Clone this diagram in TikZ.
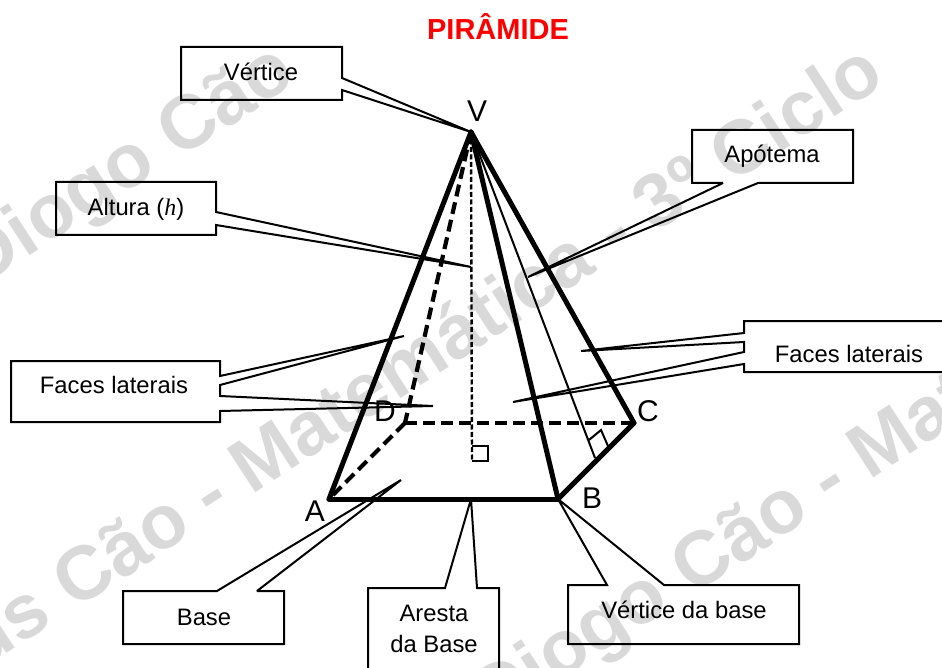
\documentclass[tikz,border=0pt]{standalone}
\usepackage{fontspec}
\setmainfont{Liberation Sans}
\newfontfamily\serifh{Liberation Serif}
\definecolor{wm}{HTML}{D9D9D9}
\tikzset{
  x=1pt,y=-1pt,
  wmark/.style={font=\fontsize{76}{76}\selectfont\bfseries,text=wm,rotate=33,inner sep=0pt},
  lab/.style={font=\fontsize{23.8}{26}\selectfont,anchor=base,inner sep=0pt},
  vert/.style={font=\fontsize{30}{32}\selectfont,anchor=base,inner sep=0pt},
  ttl/.style={font=\fontsize{29}{30}\selectfont\bfseries,text=red,anchor=base,inner sep=0pt},
  callout/.style={draw=black,line width=2pt,line join=miter,miter limit=2},
  edgebold/.style={line width=5pt,line cap=round},
  edgedash/.style={line width=4.2pt,dash pattern=on 12pt off 6pt},
  heightdash/.style={line width=2.4pt,dash pattern=on 5pt off 2.5pt},
  thinline/.style={line width=2pt}
}
\begin{document}
\begin{tikzpicture}
\useasboundingbox (0,0) rectangle (942,668);
\begin{scope}
\clip (0,0) rectangle (942,668);
\node[wmark,anchor=base east] (w1a) at (160,171) {Diogo};
\node[wmark,anchor=base west] (w1b) at (178,160) {Cão};
\node[wmark,anchor=base east] (w2a) at (55,622) {us};
\node[wmark,anchor=base west] (w2b) at (74,611) {Cão - Matemática - 3º Ciclo};
\node[wmark,anchor=base east] (w3a) at (673,607) {Diogo};
\node[wmark,anchor=base west] (w3b) at (692,596) {Cão - Mat};
\end{scope}

\coordinate (V) at (471,132);
\coordinate (A) at (329,499);
\coordinate (B) at (558,499);
\coordinate (C) at (634,423);
\coordinate (D) at (405,423);
\coordinate (H) at (472,460);
\coordinate (M) at (595,458);
\coordinate (S1) at (472,446);
\coordinate (S2) at (488,446);
\coordinate (S3) at (488,461);
\coordinate (S4) at (472,461);
\coordinate (R1) at (589,440);
\coordinate (R2) at (601,430);
\coordinate (R3) at (608,446);
\coordinate (E) at (471,499);

% hidden edges
\draw[edgedash] (V) -- (D);
\draw[edgedash] (D) -- (C);
\draw[edgedash] (D) -- (A);
\draw[heightdash] (V) -- (H);
% visible edges
\draw[edgebold] (V) -- (A);
\draw[edgebold] (V) -- (B);
\draw[edgebold] (V) -- (C);
\draw[edgebold] (A) -- (B);
\draw[edgebold] (B) -- (C);
\draw[thinline] (V) -- (M);
\draw[thinline] (S1) -- (S2) -- (S3) -- (S4);
\draw[thinline] (R1) -- (R2) -- (R3);

% callouts
\coordinate (tipH) at (471,267);
\coordinate (tipAp) at (528,277);
\coordinate (tipF1) at (404,336);
\coordinate (tipF2) at (433,406);
\coordinate (tipF3) at (581,351);
\coordinate (tipF4) at (513,402);
\coordinate (tipB) at (401,480);

\draw[callout] (181,47) -- (342,47) -- (342,78) -- (V) -- (342,90) -- (342,100) -- (181,100) -- cycle;
\draw[callout] (56,182) -- (216,182) -- (216,212) -- (tipH) -- (216,225) -- (216,235) -- (56,235) -- cycle;
\draw[callout] (692,130) -- (853,130) -- (853,183) -- (758,183) -- (tipAp) -- (723,183) -- (692,183) -- cycle;
\draw[callout] (11,361) -- (220,361) -- (220,376) -- (tipF1) -- (220,385) -- (220,396) -- (tipF2) -- (220,411) -- (220,422) -- (11,422) -- cycle;
\draw[callout] (944,321) -- (744,321) -- (744,333) -- (tipF3) -- (744,342) -- (744,352) -- (tipF4) -- (744,364) -- (744,372) -- (944,372);
\draw[callout] (123,591) -- (217,591) -- (tipB) -- (257,591) -- (284,591) -- (284,644) -- (123,644) -- cycle;
\draw[callout] (368,670) -- (368,588) -- (445,588) -- (E) -- (477,588) -- (499,588) -- (499,670);
\draw[callout] (568,585) -- (607,585) -- (B) -- (664,585) -- (799,585) -- (799,644) -- (568,644) -- cycle;

% texts
\node[ttl] (title) at (498,40) {PIRÂMIDE};
\node[vert] (lV) at (477,122) {V};
\node[vert] (lA) at (315,521) {A};
\node[vert] (lB) at (592,508) {B};
\node[vert] (lC) at (648,421) {C};
\node[vert] (lD) at (385,421) {D};
\node[lab] (t1) at (261,81) {Vértice};
\node[lab] (t2) at (136,216) {Altura ({\serifh\itshape h})};
\node[lab] (t3) at (772,163) {Apótema};
\node[lab] (t4) at (114,393) {Faces laterais};
\node[lab] (t5) at (849,362) {Faces laterais};
\node[lab] (t6) at (204,625) {Base};
\node[lab] (t7) at (434,621) {Aresta};
\node[lab] (t8) at (434,652) {da Base};
\node[lab] (t9) at (684,618) {Vértice da base};
\end{tikzpicture}
\end{document}
